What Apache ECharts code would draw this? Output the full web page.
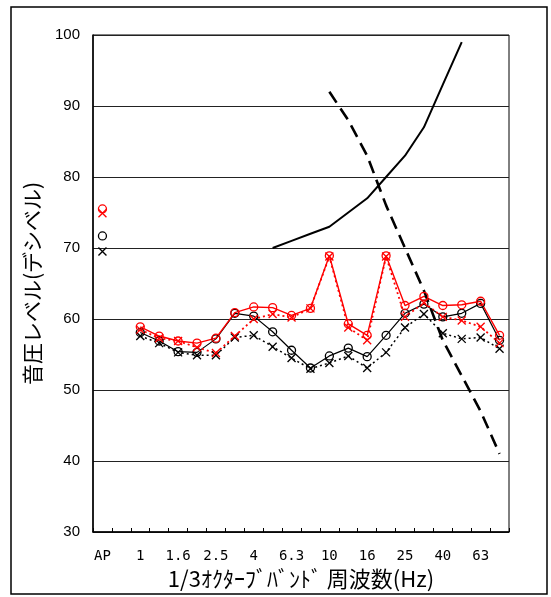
<!DOCTYPE html>
<html>
<head>
<meta charset="utf-8">
<script src="https://cdn.jsdelivr.net/npm/echarts@6/dist/echarts.min.js"></script>
<style>
  html, body { margin: 0; padding: 0; background: #fff; }
  #chart { width: 551px; height: 597px; }
</style>
</head>
<body>
<div id="chart"></div>
<script>
// 1/3 octave band centre frequencies (AP = overall, then a spacer slot)
const bands = ['AP', '', '1', '1.25', '1.6', '2', '2.5', '3.15', '4', '5', '6.3', '8',
  '10', '12.5', '16', '20', '25', '31.5', '40', '50', '63', '80'];

// Measured sound pressure levels (dB), index-aligned with bands
const redCircle  = [75.5, null, 58.9, 57.6, 56.9, 56.6, 57.3, 60.9, 61.7, 61.6, 60.5, 61.5,
  68.9, 59.3, 57.7, 68.9, 61.9, 63.2, 61.9, 62.0, 62.5, 57.7];
const redCross   = [74.9, null, 58.5, 57.3, 56.9, 56.0, 55.2, 57.6, 60.0, 60.7, 60.2, 61.5,
  68.8, 58.8, 57.0, 68.8, 60.3, 62.3, 60.3, 59.8, 58.9, 56.6];
const blackCircle = [71.7, null, 58.1, 56.9, 55.4, 55.3, 57.2, 60.8, 60.4, 58.2, 55.6, 53.1,
  54.8, 55.9, 54.7, 57.7, 60.8, 62.1, 60.3, 60.8, 62.2, 57.0];
const blackCross = [69.5, null, 57.6, 56.6, 55.3, 54.9, 54.9, 57.4, 57.7, 56.1, 54.5, 53.0,
  53.8, 54.8, 53.1, 55.3, 58.8, 60.7, 58.0, 57.2, 57.4, 55.8];

// Reference curves: rattling of fittings (5-50 Hz) and physical/mental discomfort (10-80 Hz)
const refFittings = [null, null, null, null, null, null, null, null, null, 70, 71, 72,
  73, 75, 77, 80, 83, 87, 93, 99, null, null];
const refDiscomfort = [null, null, null, null, null, null, null, null, null, null, null, null,
  92, 88, 83, 76, 70, 64, 57, 52, 47, 41];

// y-axis tick values
const yMin = 30, yMax = 100, yStep = 10;

const crossPath = 'path://M0,0L10,10M10,0L0,10';
const RED = '#ff0000', BLACK = '#000000';

function measured(data, color, symbol, dashed, width) {
  const isCross = symbol === crossPath;
  return {
    type: 'line',
    data: data,
    connectNulls: false,
    symbol: symbol,
    symbolSize: 8,
    showAllSymbol: true,
    lineStyle: { color: color, width: width, type: dashed ? [2, 3] : 'solid' },
    itemStyle: { color: isCross ? color : 'rgba(0,0,0,0)', borderColor: color, borderWidth: 1.3 },
    emphasis: { disabled: true },
    animation: false
  };
}

const chart = echarts.init(document.getElementById('chart'), null, { renderer: 'canvas' });
chart.setOption({
  backgroundColor: '#fff',
  animation: false,
  graphic: [{
    type: 'rect',
    shape: { x: 11, y: 7, width: 536, height: 587 },
    style: { fill: 'none', stroke: '#000', lineWidth: 1.5 },
    silent: true
  }],
  grid: { left: 93, right: 42, top: 35, bottom: 65, show: true, borderColor: '#000', borderWidth: 1, backgroundColor: 'transparent' },
  xAxis: {
    type: 'category',
    data: bands,
    boundaryGap: true,
    name: '1/3ｵｸﾀｰﾌﾞﾊﾞﾝﾄﾞ 周波数(Hz)',
    nameLocation: 'middle',
    nameGap: 36,
    nameTextStyle: { fontFamily: 'Noto Sans CJK JP', fontSize: 22, color: '#000' },
    axisLine: { lineStyle: { color: '#000', width: 1.5 } },
    axisTick: { show: true, inside: true, length: 4, interval: 0, lineStyle: { color: '#000' } },
    axisLabel: { interval: 1, margin: 17, fontFamily: 'DejaVu Sans Mono', fontSize: 14, color: '#000' },
    splitLine: { show: false }
  },
  yAxis: {
    type: 'value',
    min: yMin, max: yMax, interval: yStep,
    name: '音圧レベル(デシベル)',
    nameLocation: 'middle',
    nameGap: 50,
    nameTextStyle: { fontFamily: 'Noto Sans CJK JP', fontSize: 21, color: '#000' },
    axisLine: { show: true, lineStyle: { color: '#000', width: 1.5 } },
    axisTick: { show: false },
    axisLabel: { margin: 13, fontFamily: 'Liberation Sans', fontSize: 15, color: '#000' },
    splitLine: { show: true, lineStyle: { color: '#222', width: 1 } }
  },
  series: [
    measured(blackCross, BLACK, crossPath, true, 1.5),
    measured(blackCircle, BLACK, 'circle', false, 1.2),
    measured(redCross, RED, crossPath, true, 1.8),
    measured(redCircle, RED, 'circle', false, 1.4),
    {
      type: 'line', data: refFittings, symbol: 'none',
      lineStyle: { color: BLACK, width: 2, type: 'solid' }, animation: false
    },
    {
      type: 'line', data: refDiscomfort, symbol: 'none',
      lineStyle: { color: BLACK, width: 2.6, type: [13, 7] }, animation: false
    }
  ]
});
</script>
</body>
</html>
